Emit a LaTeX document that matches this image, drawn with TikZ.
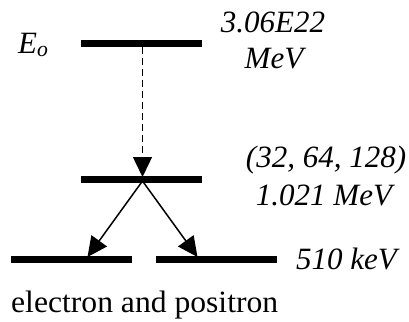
\documentclass[tikz,border=0pt]{standalone}
\usepackage{fontspec}
\usepackage{graphicx}
\setmainfont{Liberation Serif}
\usetikzlibrary{arrows.meta}
\tikzset{
  level/.style={line width=6.5pt},
  trans/.style={line width=1.5pt,-{Triangle[length=20pt,width=19pt]}},
  lbl/.style={inner sep=0pt,font=\fontsize{31}{37}\selectfont\itshape},
  captext/.style={inner sep=0pt,font=\fontsize{31}{37}\selectfont\upshape}
}
\begin{document}
\begin{tikzpicture}[x=1pt,y=-1pt]
\useasboundingbox (0,0) rectangle (409,321);
% levels
\coordinate (t1) at (81,43.5);  \coordinate (t2) at (202,43.5);
\coordinate (m1) at (81,179.5); \coordinate (m2) at (202,179.5);
\coordinate (b1) at (11,259.5); \coordinate (b2) at (132,259.5);
\coordinate (b3) at (156,259.5); \coordinate (b4) at (277,259.5);
\draw[level] (t1) -- (t2);
\draw[level] (m1) -- (m2);
\draw[level] (b1) -- (b2);
\draw[level] (b3) -- (b4);
% transitions
\coordinate (ds) at (142.5,47);
\coordinate (de) at (142.5,177);
\coordinate (ss) at (142.5,181);
\coordinate (le) at (87.5,257);
\coordinate (re) at (197.5,257);
\draw[trans,dash pattern=on 7pt off 4pt] (ds) -- (de);
\draw[trans] (ss) -- (le);
\draw[trans] (ss) -- (re);
% labels
\node[lbl,anchor=base west] (eo) at (18,53) {E\textsubscript{o}};
\node[lbl,anchor=base] (e1) at (273,33) {3.06E22};
\node[lbl,anchor=base] (e1u) at (274,68) {MeV};
\node[lbl,anchor=base] (e2a) at (326,167) {(32, 64, 128)};
\node[lbl,anchor=base] (e2) at (324,205) {1.021 MeV};
\node[lbl,anchor=base west] (e3) at (296,269) {510 keV};
\node[captext,anchor=base west] (ep) at (11,312) {\resizebox{267pt}{\height}{electron and positron}};
\end{tikzpicture}
\end{document}
